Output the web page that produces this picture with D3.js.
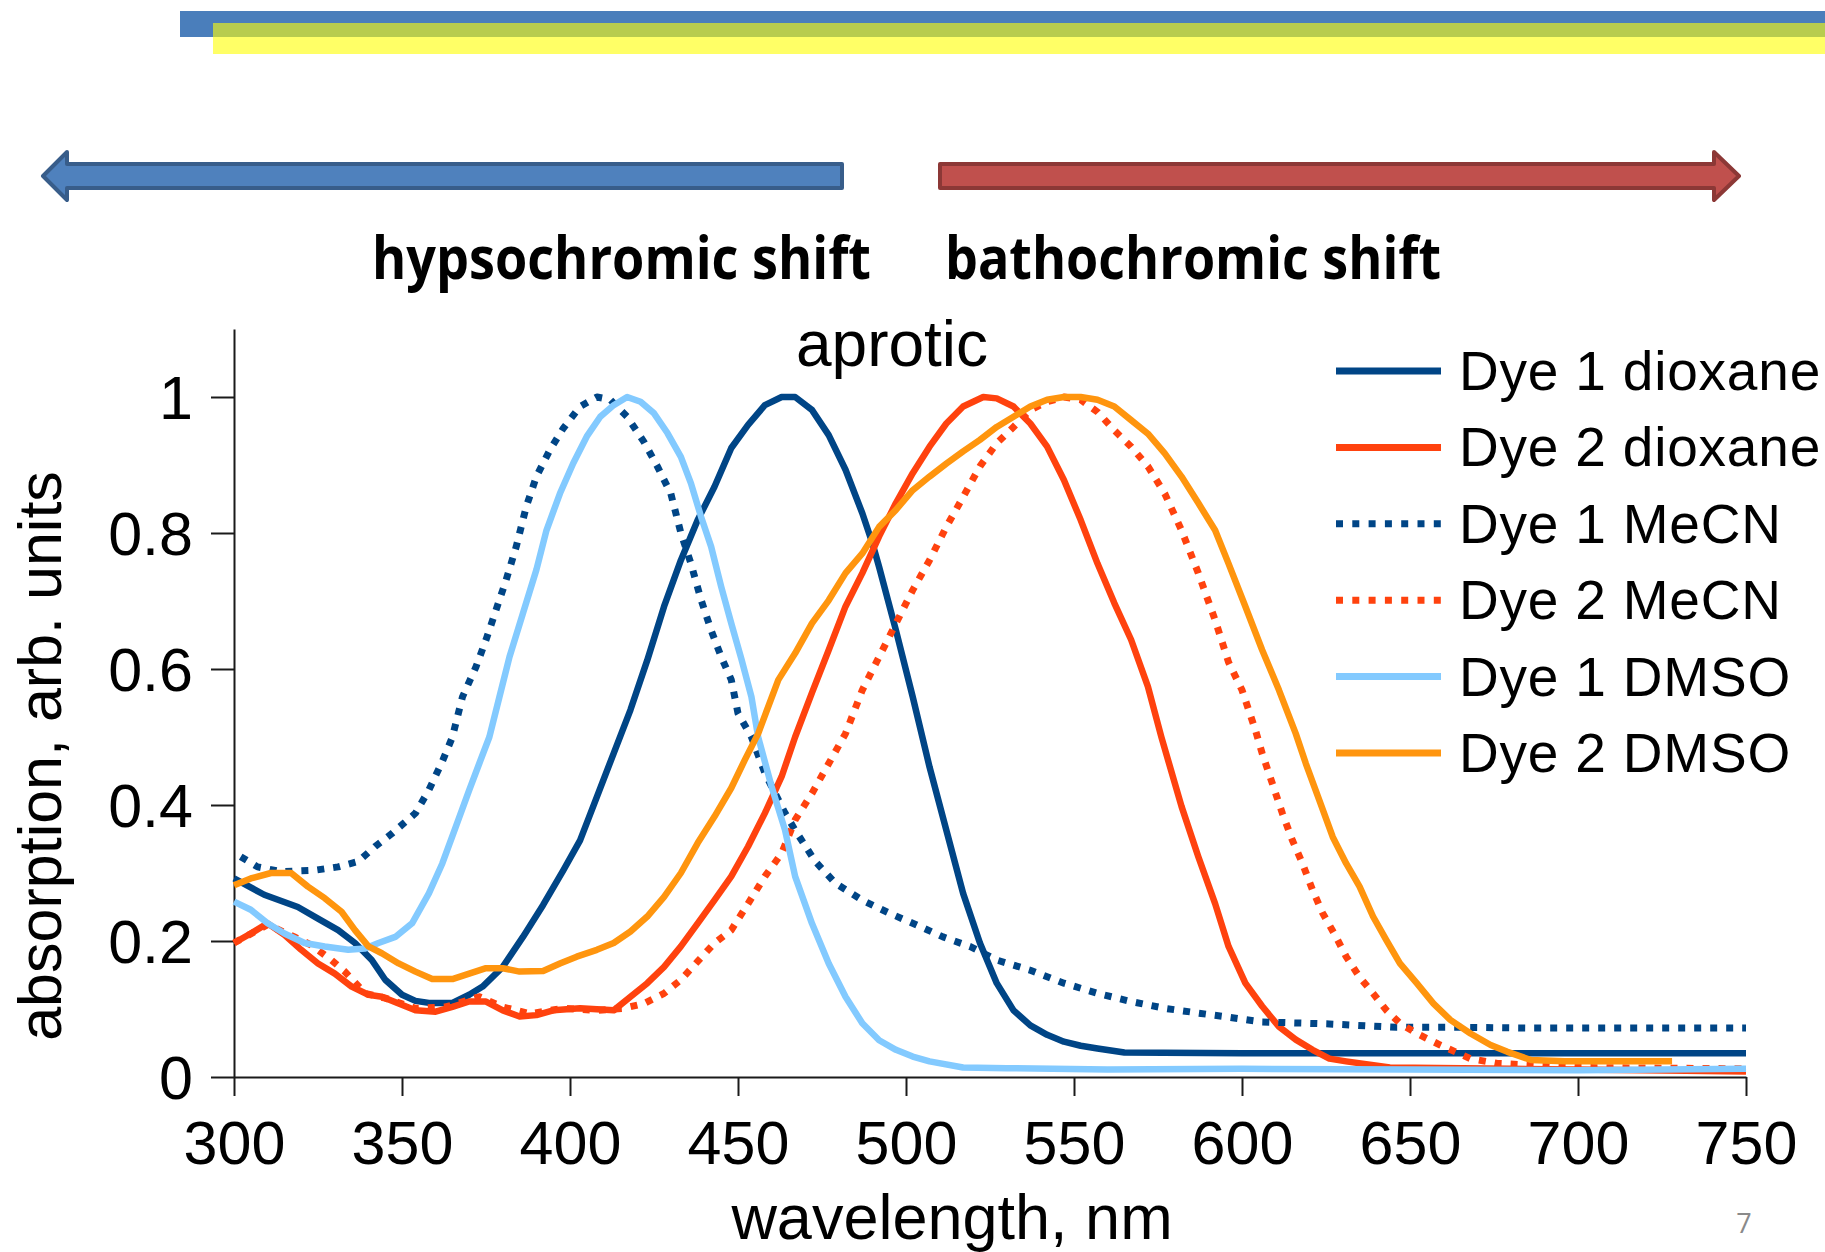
<!DOCTYPE html>
<html>
<head>
<meta charset="utf-8">
<script src="https://cdn.jsdelivr.net/npm/d3@7"></script>
<style>
  html, body { margin: 0; padding: 0; background: #ffffff; }
  svg { display: block; }
</style>
</head>
<body>
<svg id="chart" width="1825" height="1252"></svg>
<script>
// ---- Absorption spectra (normalised), wavelength in nm ----
const dye1DioxaneNm  = [300,309,319,325,331,336,341,345,350,354,358,365,370,374,380,386,392,398,403,408,413,418,423,428,433,438,443,448,453,458,463,467,472,477,482,487,490,492,497,502,507,512,517,522,527,532,537,542,547,552,557,565,600,650,700,750];
const dye1DioxaneAbs = [0.292,0.268,0.250,0.233,0.216,0.197,0.172,0.143,0.121,0.112,0.109,0.109,0.121,0.133,0.162,0.206,0.253,0.304,0.348,0.412,0.476,0.540,0.613,0.692,0.760,0.819,0.868,0.925,0.959,0.988,1.0,1.0,0.981,0.944,0.893,0.829,0.785,0.750,0.657,0.559,0.456,0.363,0.270,0.197,0.138,0.098,0.076,0.062,0.052,0.046,0.042,0.036,0.035,0.035,0.035,0.035];

const dye2DioxaneNm  = [300,305,310,315,320,325,330,335,340,344,349,354,360,365,370,375,380,385,390,395,403,413,418,423,428,433,438,443,448,453,458,463,467,472,477,482,487,492,497,502,507,512,517,523,527,532,537,542,547,552,557,562,567,572,576,582,587,592,596,601,606,611,616,621,626,631,644,680,720,750];
const dye2DioxaneAbs = [0.197,0.211,0.226,0.209,0.187,0.167,0.152,0.133,0.121,0.118,0.108,0.098,0.096,0.103,0.111,0.111,0.098,0.089,0.091,0.098,0.101,0.098,0.118,0.138,0.162,0.192,0.226,0.260,0.295,0.339,0.388,0.442,0.500,0.565,0.628,0.692,0.741,0.795,0.844,0.888,0.927,0.961,0.986,1.0,0.998,0.986,0.961,0.927,0.878,0.819,0.755,0.697,0.643,0.574,0.500,0.398,0.324,0.255,0.192,0.138,0.104,0.074,0.055,0.040,0.027,0.023,0.014,0.012,0.010,0.008];

const dye1MecnNm  = [302,307,314,324,331,337,342,347,354,358,362,365,368,372,375,378,381,384,387,390,394,398,403,408,412,417,422,426,430,433,436,439,442,445,448,450,454,458,464,467,473,479,487,495,503,511,519,527,537,547,557,567,577,587,596,606,626,646,666,686,706,726,750];
const dye1MecnAbs = [0.324,0.309,0.302,0.304,0.309,0.317,0.339,0.358,0.388,0.422,0.464,0.500,0.559,0.603,0.643,0.687,0.731,0.780,0.839,0.883,0.922,0.954,0.986,1.0,0.996,0.971,0.934,0.898,0.858,0.800,0.755,0.702,0.657,0.618,0.584,0.535,0.500,0.447,0.388,0.363,0.317,0.285,0.260,0.241,0.224,0.206,0.192,0.172,0.157,0.138,0.123,0.111,0.101,0.094,0.088,0.081,0.078,0.073,0.073,0.072,0.072,0.072,0.072];

const dye2MecnNm  = [300,310,318,323,329,333,339,345,354,363,373,380,388,398,408,416,422,428,433,438,443,448,453,458,463,467,472,477,482,487,492,497,502,507,512,517,522,527,532,537,542,547,552,557,562,567,572,577,582,587,592,596,600,604,606,609,612,615,618,621,624,628,631,635,639,643,647,652,659,668,676,700,750];
const dye2MecnAbs = [0.197,0.224,0.206,0.194,0.172,0.155,0.123,0.116,0.101,0.103,0.118,0.103,0.093,0.101,0.098,0.101,0.108,0.123,0.143,0.170,0.197,0.216,0.255,0.295,0.329,0.378,0.417,0.461,0.505,0.569,0.618,0.667,0.716,0.760,0.809,0.853,0.898,0.932,0.956,0.981,0.993,1.0,0.996,0.978,0.951,0.927,0.898,0.858,0.804,0.741,0.672,0.610,0.569,0.510,0.476,0.432,0.388,0.348,0.314,0.275,0.241,0.206,0.177,0.147,0.123,0.098,0.079,0.064,0.047,0.027,0.020,0.014,0.012];

const dye1DmsoNm  = [300,305,310,315,321,327,334,339,343,348,353,358,362,366,370,373,376,379,382,386,390,393,397,401,405,409,413,417,421,425,429,433,436,439,442,445,448,451,454,456,460,464,467,472,477,482,487,492,497,502,507,517,530,560,600,650,700,750];
const dye1DmsoAbs = [0.258,0.246,0.226,0.211,0.197,0.192,0.187,0.189,0.197,0.206,0.226,0.270,0.314,0.368,0.422,0.461,0.500,0.559,0.618,0.682,0.746,0.804,0.858,0.903,0.942,0.971,0.988,1.0,0.993,0.976,0.947,0.912,0.873,0.824,0.780,0.721,0.667,0.615,0.559,0.500,0.427,0.363,0.295,0.226,0.167,0.118,0.079,0.054,0.040,0.030,0.023,0.014,0.013,0.011,0.012,0.011,0.010,0.012];

const dye2DmsoNm  = [300,305,311,317,322,327,332,336,340,344,349,354,359,365,370,375,380,385,392,397,402,408,413,418,423,428,433,438,443,448,452,456,462,467,472,477,482,487,492,497,502,507,512,517,522,527,532,537,542,547,552,557,562,567,572,577,582,587,592,596,601,606,611,616,619,623,627,631,635,639,643,647,652,657,662,668,674,679,686,696,728];
const dye2DmsoAbs = [0.282,0.292,0.300,0.300,0.280,0.263,0.243,0.216,0.192,0.182,0.167,0.155,0.144,0.144,0.152,0.160,0.160,0.155,0.156,0.167,0.177,0.187,0.197,0.214,0.236,0.265,0.300,0.344,0.383,0.425,0.466,0.505,0.584,0.623,0.667,0.701,0.741,0.770,0.809,0.834,0.863,0.883,0.902,0.920,0.937,0.956,0.971,0.986,0.996,1.0,1.0,0.996,0.986,0.966,0.946,0.917,0.883,0.844,0.804,0.755,0.692,0.628,0.569,0.505,0.461,0.407,0.353,0.314,0.280,0.236,0.201,0.167,0.138,0.108,0.084,0.064,0.047,0.037,0.025,0.023,0.023];

const seriesNames  = ["Dye 1 dioxane","Dye 2 dioxane","Dye 1 MeCN","Dye 2 MeCN","Dye 1 DMSO","Dye 2 DMSO"];
const seriesColors = ["#004586","#ff420e","#004586","#ff420e","#83caff","#ff950e"];
const seriesDotted = [false,false,true,true,false,false];
const seriesNm  = [dye1DioxaneNm, dye2DioxaneNm, dye1MecnNm, dye2MecnNm, dye1DmsoNm, dye2DmsoNm];
const seriesAbs = [dye1DioxaneAbs, dye2DioxaneAbs, dye1MecnAbs, dye2MecnAbs, dye1DmsoAbs, dye2DmsoAbs];

const xTicks = [300,350,400,450,500,550,600,650,700,750];
const yTicks = [0,0.2,0.4,0.6,0.8,1];
const yTickLabels = ["0","0.2","0.4","0.6","0.8","1"];

const svg = d3.select("#chart");
const FONT = "'Liberation Sans', Arial, sans-serif";

// ---- Header band ----
svg.append("rect").attr("x",180).attr("y",11).attr("width",1645).attr("height",26).attr("fill","#4a7ebb");
svg.append("rect").attr("x",213).attr("y",37).attr("width",1612).attr("height",17).attr("fill","#ffff66");
svg.append("rect").attr("x",213).attr("y",23).attr("width",1612).attr("height",14).attr("fill","#b8cc4e");

// ---- Shift arrows ----
function arrowPath(tail, base, tip, yc, bodyHalf, headHalf) {
  return `M${tail},${yc-bodyHalf} L${base},${yc-bodyHalf} L${base},${yc-headHalf} L${tip},${yc} L${base},${yc+headHalf} L${base},${yc+bodyHalf} L${tail},${yc+bodyHalf} Z`;
}
svg.append("path")
  .attr("d", arrowPath(842, 67, 43, 176, 12, 24))
  .attr("fill","#4f81bd").attr("stroke","#385d8a").attr("stroke-width",4).attr("stroke-linejoin","round");
svg.append("path")
  .attr("d", arrowPath(940, 1714, 1739, 176, 12, 24))
  .attr("fill","#c0504d").attr("stroke","#8c3836").attr("stroke-width",4).attr("stroke-linejoin","round");

svg.append("text").text("hypsochromic shift")
  .attr("x",372).attr("y",279).attr("textLength",499).attr("lengthAdjust","spacingAndGlyphs")
  .attr("font-family","'Open Sans', sans-serif").attr("font-weight","bold").attr("font-size",59).attr("fill","#000");
svg.append("text").text("bathochromic shift")
  .attr("x",945).attr("y",279).attr("textLength",496).attr("lengthAdjust","spacingAndGlyphs")
  .attr("font-family","'Open Sans', sans-serif").attr("font-weight","bold").attr("font-size",59).attr("fill","#000");

// ---- Scales ----
const x = d3.scaleLinear().domain([300,750]).range([234,1746]);
const y = d3.scaleLinear().domain([0,1.1]).range([1077,329]);

// ---- Axes ----
const yAxis = d3.axisLeft(y).tickValues(yTicks).tickSize(23).tickSizeOuter(0).tickPadding(18)
  .tickFormat((d,i) => yTickLabels[i]);
const gy = svg.append("g").attr("transform","translate(234,0)").call(yAxis);
gy.selectAll("path,line").attr("stroke","#1a1a1a").attr("stroke-width",2);
gy.selectAll("text").attr("font-family",FONT).attr("font-size",61).attr("fill","#000").attr("dy","0.36em");

const xAxis = d3.axisBottom(x).tickValues(xTicks).tickSize(19).tickSizeOuter(0).tickFormat(d3.format("d"));
const gx = svg.append("g").attr("transform","translate(0,1077)").call(xAxis);
gx.selectAll("path,line").attr("stroke","#1a1a1a").attr("stroke-width",2);
gx.selectAll("text").attr("font-family",FONT).attr("font-size",61).attr("fill","#000")
  .attr("y",87).attr("dy",0);

// Axis titles and panel title
svg.append("text").text("absorption, arb. units")
  .attr("transform","translate(61,756) rotate(-90)").attr("text-anchor","middle")
  .attr("font-family",FONT).attr("font-size",61).attr("fill","#000");
svg.append("text").text("wavelength, nm")
  .attr("x",952).attr("y",1239).attr("text-anchor","middle")
  .attr("font-family",FONT).attr("font-size",63).attr("fill","#000");
svg.append("text").text("aprotic")
  .attr("x",892).attr("y",366).attr("text-anchor","middle")
  .attr("font-family",FONT).attr("font-size",64).attr("fill","#000");

// ---- Spectra ----
const line = d3.line().x(d => x(d[0])).y(d => y(d[1]));
const curves = svg.append("g").attr("fill","none");
seriesNames.forEach((name, i) => {
  const pts = seriesNm[i].map((nm, k) => [nm, seriesAbs[i][k]]);
  curves.append("path")
    .attr("d", line(pts))
    .attr("stroke", seriesColors[i])
    .attr("stroke-width", seriesDotted[i] ? 7 : 6.5)
    .attr("stroke-dasharray", seriesDotted[i] ? "7,9" : null)
    .attr("stroke-linejoin","round");
});

// ---- Legend ----
const legend = svg.append("g");
seriesNames.forEach((name, i) => {
  const ly = 371 + i * 76.4;
  legend.append("line")
    .attr("x1",1336).attr("x2",1441).attr("y1",ly).attr("y2",ly)
    .attr("stroke",seriesColors[i]).attr("stroke-width",7)
    .attr("stroke-dasharray", seriesDotted[i] ? "7,9.3" : null);
  legend.append("text").text(name)
    .attr("x",1459).attr("y",ly + 19)
    .attr("font-family",FONT).attr("font-size",55).attr("letter-spacing",0.8).attr("fill","#000");
});

// Slide number
svg.append("text").text("7")
  .attr("x",1744).attr("y",1233).attr("text-anchor","middle")
  .attr("font-family","'Open Sans', sans-serif").attr("font-size",27).attr("fill","#8a8a8a");
</script>
</body>
</html>
